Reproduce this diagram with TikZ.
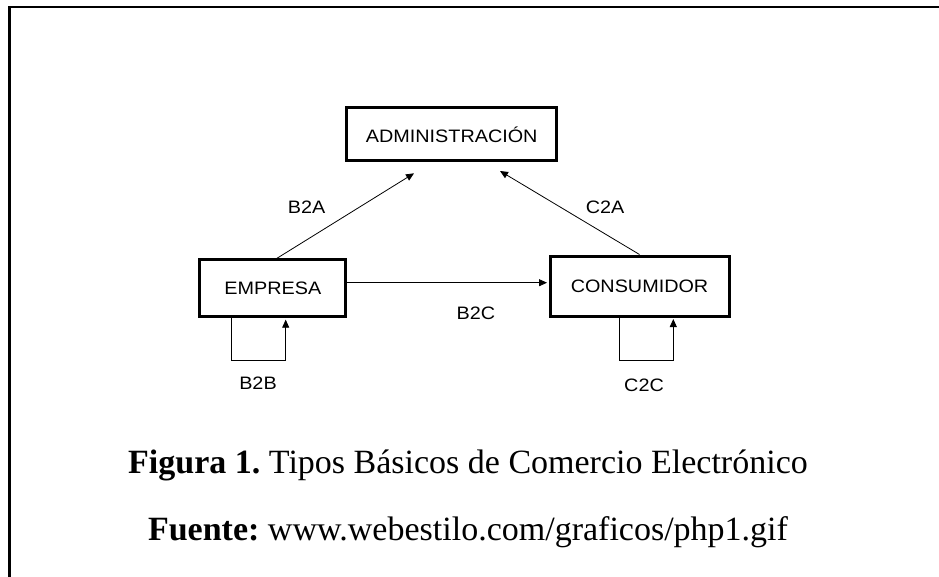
\documentclass[tikz,border=0pt]{standalone}
\usepackage{fontspec}
\setmainfont{Liberation Serif}
\newfontfamily\diagfont[FakeStretch=1.1]{Liberation Sans}
\usetikzlibrary{arrows.meta}
\frenchspacing
\tikzset{
  box/.style={draw, line width=3pt, minimum width=#1, inner sep=0pt, font=\diagfont\fontsize{18}{21}\selectfont},
  arr/.style={draw, line width=0.8pt, -{Triangle[length=8pt,width=7pt]}},
  lbl/.style={font=\diagfont\fontsize{18}{21}\selectfont, inner sep=0pt},
  captext/.style={font=\fontsize{34}{40}\selectfont, inner sep=0pt}
}
\begin{document}
\begin{tikzpicture}[x=1pt,y=-1pt]
\useasboundingbox (0,0) rectangle (939,576);
\clip (0,0) rectangle (939,576);
\draw[line width=2.7pt] (9.5,7) rectangle (960,600);
\node[box=210pt, minimum height=52.7pt] (adm) at (451.7,134.3) {ADMINISTRACIÓN};
\node[box=145.7pt, minimum height=56.7pt] (emp) at (272.8,288.3) {EMPRESA};
\node[box=179pt, minimum height=60pt] (con) at (639.5,286) {CONSUMIDOR};
\coordinate (b2aend) at (414,173.3);
\coordinate (c2aend) at (500,171);
\draw[arr] ([xshift=3.9pt]emp.north) -- (b2aend);
\draw[arr] (con.north) -- (c2aend);
\draw[arr, shorten >=1.5pt] ([yshift=5.6pt]emp.east) -- ([yshift=3.3pt]con.west);
\draw[arr, shorten >=1.5pt] ([xshift=-41.8pt]emp.south) -- ++(0,42.3) -| ([xshift=12.9pt]emp.south);
\draw[arr, shorten >=1.5pt] ([xshift=-20.5pt]con.south) -- ++(0,43) -| ([xshift=33.8pt]con.south);
\node[lbl] (lb2a) at (306.7,207) {B2A};
\node[lbl] (lc2a) at (605,207) {C2A};
\node[lbl] (lb2c) at (476,313) {B2C};
\node[lbl] (lb2b) at (258,383) {B2B};
\node[lbl] (lc2c) at (644,385) {C2C};
\node[captext] (cap1) at (468,465) {\textbf{Figura 1.} Tipos Básicos de Comercio Electrónico};
\node[captext] (cap2) at (468,532) {\textbf{Fuente:} www.webestilo.com/graficos/php1.gif};
\end{tikzpicture}
\end{document}
